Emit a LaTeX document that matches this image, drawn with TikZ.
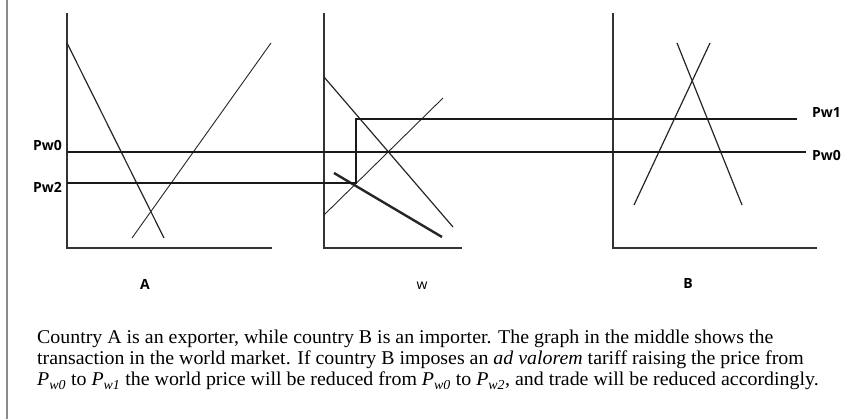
\documentclass[tikz,border=0pt]{standalone}
\usepackage{fontspec}
\setmainfont{Liberation Serif}
\newfontfamily\capfont[FakeStretch=1.02]{Liberation Serif}
\newfontfamily\lblfont{Open Sans}
\newcommand{\pw}[1]{\textit{P}\textsubscript{\textit{w#1}}}
\begin{document}
\begin{tikzpicture}[x=1pt,y=-1pt,
  axis/.style={draw=black!80,line width=1.4pt},
  curve/.style={draw=black!85,line width=1.2pt},
  thin curve/.style={draw=black!85,line width=0.9pt},
  price/.style={draw=black!90,line width=1.8pt},
  thickline/.style={draw=black!85,line width=2.4pt},
  lbl/.style={font=\lblfont\fontsize{14}{16}\selectfont\bfseries},
  captext/.style={font=\capfont\fontsize{19.5}{22}\selectfont,anchor=base west,inner sep=0pt}]
\useasboundingbox (0,0) rectangle (868,419);
\draw[draw=black!45,line width=2pt] (7,0) -- (7,419);
% Panel A
\coordinate (aT) at (67,13); \coordinate (aO) at (67,248); \coordinate (aR) at (272,248);
\draw[axis] (aT) -- (aO) -- (aR);
\coordinate (aD1) at (67,43); \coordinate (aD2) at (164,238);
\coordinate (aS1) at (132,238); \coordinate (aS2) at (271,43);
\draw[curve] (aD1) -- (aD2);
\draw[thin curve] (aS1) -- (aS2);
% Panel W
\coordinate (wT) at (324,13); \coordinate (wO) at (324,248); \coordinate (wR) at (462,248);
\draw[axis] (wT) -- (wO) -- (wR);
\coordinate (wD1) at (324,77); \coordinate (wD2) at (453,227);
\coordinate (wS1) at (324,215); \coordinate (wS2) at (443,98);
\draw[curve] (wD1) -- (wD2);
\draw[thin curve] (wS1) -- (wS2);
\coordinate (wK1) at (334,173); \coordinate (wK2) at (442,237);
\draw[thickline] (wK1) -- (wK2);
% Panel B
\coordinate (bT) at (613,13); \coordinate (bO) at (613,248); \coordinate (bR) at (817,248);
\draw[axis] (bT) -- (bO) -- (bR);
\coordinate (bS1) at (634,205); \coordinate (bS2) at (710,43);
\coordinate (bD1) at (677,43); \coordinate (bD2) at (742,205);
\draw[curve] (bS1) -- (bS2);
\draw[curve] (bD1) -- (bD2);
% price lines
\coordinate (p0L) at (67,152); \coordinate (p0R) at (806,152);
\coordinate (p2L) at (67,183); \coordinate (kB) at (356,183);
\coordinate (kT) at (356,119); \coordinate (p1R) at (797,119);
\draw[price] (p0L) -- (p0R);
\draw[price] (p2L) -- (kB) -- (kT) -- (p1R);
% labels
\node[lbl,anchor=east,inner sep=2pt] (lpw0) at (64,145) {Pw0};
\node[lbl,anchor=east,inner sep=2pt] (lpw2) at (64,187) {Pw2};
\node[lbl,anchor=west,inner sep=2pt] (rpw1) at (810,113) {Pw1};
\node[lbl,anchor=west,inner sep=2pt] (rpw0) at (810,155) {Pw0};
\node[lbl] (la) at (145,284) {A};
\node[lbl,font=\lblfont\fontsize{14}{16}\selectfont] (lw) at (422,286) {w};
\node[lbl] (lb) at (688,284) {B};
% caption
\node[captext] (c1) at (37,344) {Country A is an exporter, while country B is an importer. The graph in the middle shows the};
\node[captext] (c2) at (37,365) {transaction in the world market. If country B imposes an \textit{ad valorem} tariff raising the price from};
\node[captext] (c3) at (37,386) {\pw{0} to \pw{1} the world price will be reduced from \pw{0} to \pw{2}, and trade will be reduced accordingly.};
\end{tikzpicture}
\end{document}
